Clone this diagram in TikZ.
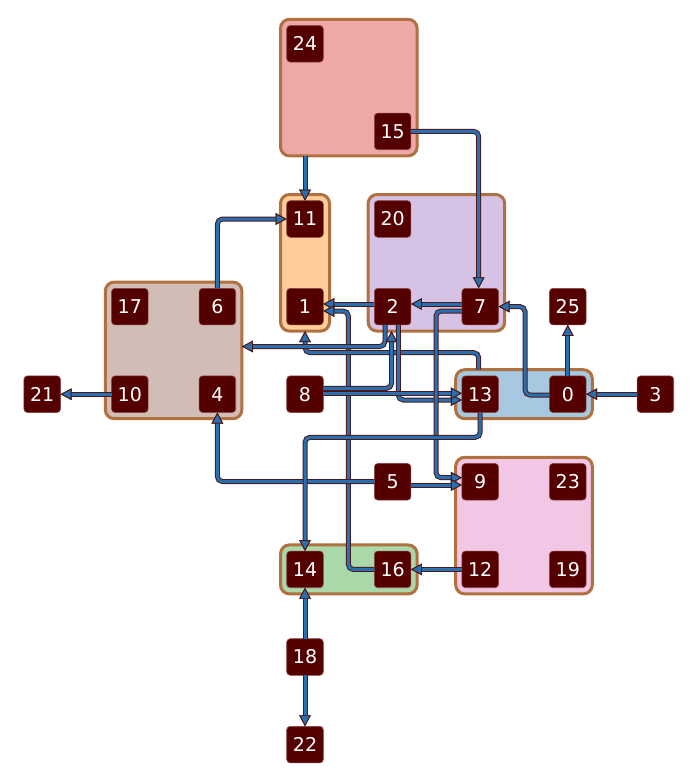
\documentclass[tikz,border=0pt]{standalone}
\usepackage{fontspec}
\setmainfont{DejaVu Sans}
\usetikzlibrary{arrows.meta,fit,backgrounds,calc}
\definecolor{nodefill}{HTML}{550000}
\definecolor{nodeborder}{HTML}{8A4848}
\definecolor{grpborder}{HTML}{B07040}
\definecolor{edgeblue}{HTML}{2A70B0}
\definecolor{edgedark}{HTML}{4A1818}
\definecolor{cRed}{HTML}{EEA8A8}
\definecolor{cOrange}{HTML}{FFCC9A}
\definecolor{cPurple}{HTML}{D5C2E4}
\definecolor{cBrown}{HTML}{D1BCB6}
\definecolor{cBlue}{HTML}{A7C8E1}
\definecolor{cPink}{HTML}{F2C7E6}
\definecolor{cGreen}{HTML}{ABD8A9}
\tikzset{
  nd/.style={rectangle, minimum size=36.6pt, inner sep=0pt, outer sep=0pt,
    rounded corners=3.5pt, fill=nodefill, draw=nodeborder, line width=0.6pt,
    text=white, font=\fontsize{19}{19}\selectfont},
  grp/.style={rectangle, rounded corners=9pt, draw=grpborder, line width=3pt,
    inner sep=6.2pt, outer sep=0pt},
  edge/.style={draw=edgeblue, line width=3pt, rounded corners=5pt,
    preaction={draw=edgedark, line width=5pt},
    -{Triangle[length=11pt,width=11.5pt,color=edgedark,fill=edgeblue,line width=0.9pt]}}
}
\begin{document}
\begin{tikzpicture}[x=1pt,y=-1pt]
\useasboundingbox (0,0) rectangle (690,773);
% nodes
\node[nd] (n24) at (305,43.8) {24};
\node[nd] (n15) at (392.6,131.4) {15};
\node[nd] (n11) at (305,219) {11};
\node[nd] (n20) at (392.6,219) {20};
\node[nd] (n17) at (129.8,306.6) {17};
\node[nd] (n6) at (217.4,306.6) {6};
\node[nd] (n1) at (305,306.6) {1};
\node[nd] (n2) at (392.6,306.6) {2};
\node[nd] (n7) at (480.2,306.6) {7};
\node[nd] (n25) at (567.8,306.6) {25};
\node[nd] (n21) at (42.2,394.2) {21};
\node[nd] (n10) at (129.8,394.2) {10};
\node[nd] (n4) at (217.4,394.2) {4};
\node[nd] (n8) at (305,394.2) {8};
\node[nd] (n13) at (480.2,394.2) {13};
\node[nd] (n0) at (567.8,394.2) {0};
\node[nd] (n3) at (655.4,394.2) {3};
\node[nd] (n5) at (392.6,481.8) {5};
\node[nd] (n9) at (480.2,481.8) {9};
\node[nd] (n23) at (567.8,481.8) {23};
\node[nd] (n14) at (305,569.4) {14};
\node[nd] (n16) at (392.6,569.4) {16};
\node[nd] (n12) at (480.2,569.4) {12};
\node[nd] (n19) at (567.8,569.4) {19};
\node[nd] (n18) at (305,657) {18};
\node[nd] (n22) at (305,744.6) {22};
% groups
\begin{scope}[on background layer]
\node[grp, fill=cRed, fit=(n24)(n15)] (gRed) {};
\node[grp, fill=cOrange, fit=(n11)(n1)] (gOrange) {};
\node[grp, fill=cPurple, fit=(n20)(n2)(n7)] (gPurple) {};
\node[grp, fill=cBrown, fit=(n17)(n4)] (gBrown) {};
\node[grp, fill=cBlue, fit=(n13)(n0)] (gBlue) {};
\node[grp, fill=cPink, fit=(n9)(n19)] (gPink) {};
\node[grp, fill=cGreen, fit=(n14)(n16)] (gGreen) {};
\end{scope}
% bend points
\coordinate (a6) at (348.3,311);
\coordinate (a9) at (525,395);
\coordinate (a10) at (478.7,352.7);
\coordinate (a11) at (385,346.5);
\coordinate (a12) at (391.5,388.3);
\coordinate (a13) at (398.3,400);
\coordinate (a14) at (0,393.3);
\coordinate (a15) at (436,311);
\coordinate (b15) at (436,477.7);
\coordinate (a16) at (0,485);
\coordinate (a17) at (0,481.5);
\coordinate (a18) at (0,437.3);
% edges
\draw[edge] (gRed.south -| n11) -- (n11.north);
\draw[edge] (n15.east) -| ([xshift=-1.5pt]n7.north);
\draw[edge] (n6.north) |- (n11.west);
\draw[edge] ([yshift=2.6pt]n2.west) -- ([yshift=2.6pt]n1.east);
\draw[edge] ([yshift=2.6pt]n7.west) -- ([yshift=2.6pt]n2.east);
\draw[edge] (n16.west) -| (a6) -- (n1.east |- a6);
\draw[edge] (n3.west) -- (n0.east);
\draw[edge] (n0.north) -- (n25.south);
\draw[edge] (n0.west |- a9) -- (a9) |- (n7.east);
\draw[edge] (gBlue.north -| a10) -- (a10) -| (gOrange.south);
\draw[edge] (n2.south -| a11) -- (a11) -- (gBrown.east |- a11);
\draw[edge] (n8.east |- a12) -- (a12) -- (gPurple.south -| a12);
\draw[edge] (n2.south -| a13) -- (a13) -- (n13.west |- a13);
\draw[edge] (n8.east |- a14) -- (n13.west |- a14);
\draw[edge] (n7.west |- a15) -- (a15) -- (b15) -- (n9.west |- b15);
\draw[edge] (n5.east |- a16) -- (n9.west |- a16);
\draw[edge] (n5.west |- a17) -| (n4.south);
\draw[edge] (n13.south) -- (n13.south |- a18) -| (n14.north);
\draw[edge] (n12.west) -- (n16.east);
\draw[edge] (n18.north) -- (n14.south);
\draw[edge] (n18.south) -- (n22.north);
\draw[edge] (n10.west) -- (n21.east);
\end{tikzpicture}
\end{document}
